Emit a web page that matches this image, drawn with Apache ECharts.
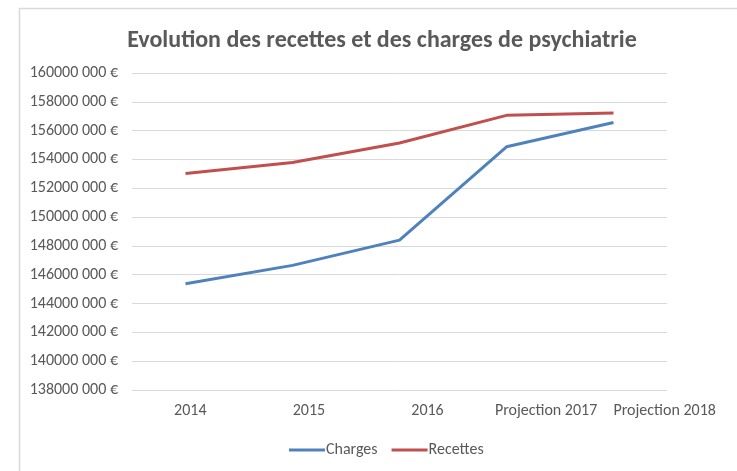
<!DOCTYPE html>
<html>
<head>
<meta charset="utf-8">
<script src="https://cdn.jsdelivr.net/npm/echarts@6/dist/echarts.min.js"></script>
<style>
html,body{margin:0;padding:0;background:#fff;}
#chart{width:737px;height:471px;}
</style>
</head>
<body>
<div id="chart"></div>
<script>
const categories = ["2014", "2015", "2016", "Projection 2017", "Projection 2018"];
const charges = [145370000, 146650000, 148400000, 154880000, 156560000];
const recettes = [153020000, 153790000, 155140000, 157060000, 157230000];
const yMin = 138000000, yMax = 160000000, yStep = 2000000;

function fmt(v) {
  const s = String(Math.round(v));
  return s.slice(0, s.length - 3) + " " + s.slice(-3) + " €";
}

const chart = echarts.init(document.getElementById('chart'), null, {renderer: 'canvas'});
const font = "Carlito, 'Open Sans', 'Noto Sans', sans-serif";
chart.setOption({
  animation: false,
  backgroundColor: '#fff',
  graphic: [{
    type: 'rect', left: 17, top: 6, shape: {width: 740, height: 480},
    style: {fill: 'none', stroke: '#d9d9d9', lineWidth: 1.5}, silent: true, z: -1
  }],
  title: {
    text: 'Evolution des recettes et des charges de psychiatrie',
    left: 377, top: 24, textAlign: 'center',
    textStyle: {fontFamily: font, fontSize: 24, fontWeight: 'bold', color: '#595959'}
  },
  legend: {
    bottom: 8, left: 284, itemWidth: 36, itemHeight: 3, itemGap: 14,
    icon: 'rect',
    textStyle: {fontFamily: font, fontSize: 16, color: '#595959', padding: [0,0,0,-4]},
    data: ['Charges', 'Recettes']
  },
  grid: [
    {left: 132, right: 70, top: 73, bottom: 81},
    {left: 131, right: 13, top: 73, bottom: 81}
  ],
  xAxis: [{
    type: 'category', data: categories, boundaryGap: true, gridIndex: 0,
    axisLine: {show: false}, axisTick: {show: false}, axisLabel: {show: false}
  }, {
    type: 'category', data: categories, boundaryGap: true, gridIndex: 1,
    axisLine: {show: false}, axisTick: {show: false}, splitLine: {show: false},
    axisLabel: {fontFamily: font, fontSize: 16, color: '#595959', margin: 13, interval: 0}
  }],
  yAxis: [{
    type: 'value', min: yMin, max: yMax, interval: yStep, gridIndex: 0,
    axisLine: {show: false}, axisTick: {show: false},
    splitLine: {lineStyle: {color: '#d9d9d9', width: 1}},
    axisLabel: {fontFamily: font, fontSize: 16, color: '#595959', margin: 14, formatter: fmt}
  }, {
    type: 'value', min: yMin, max: yMax, interval: yStep, gridIndex: 1, show: false,
    splitLine: {show: false}
  }],
  series: [
    {name: 'Charges', type: 'line', data: charges, showSymbol: false, symbol: 'none',
     xAxisIndex: 0, yAxisIndex: 0,
     lineStyle: {color: '#4F81BD', width: 3}, itemStyle: {color: '#4F81BD'}},
    {name: 'Recettes', type: 'line', data: recettes, showSymbol: false, symbol: 'none',
     xAxisIndex: 0, yAxisIndex: 0,
     lineStyle: {color: '#C0504D', width: 3}, itemStyle: {color: '#C0504D'}}
  ]
});
</script>
</body>
</html>
